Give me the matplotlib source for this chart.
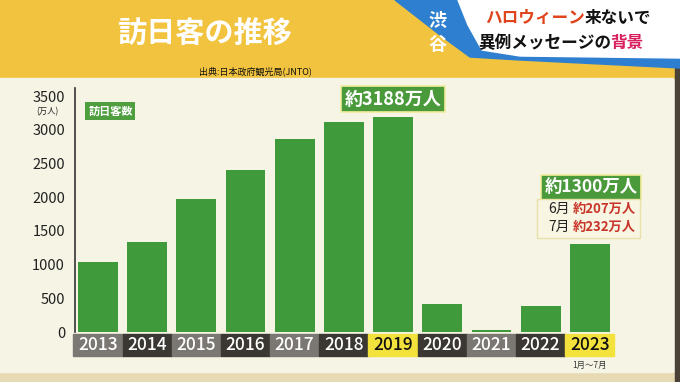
import matplotlib.pyplot as plt
from matplotlib.patches import Rectangle, Polygon
import matplotlib.transforms as mtransforms

plt.rcParams['font.family'] = ['Noto Sans CJK JP', 'DejaVu Sans']

years = ["2013", "2014", "2015", "2016", "2017", "2018", "2019",
         "2020", "2021", "2022", "2023"]
visitors = [1036, 1341, 1974, 2404, 2869, 3119, 3188, 412, 25, 383, 1300]
box_colors = ["#7b7874", "#3b3834", "#7b7874", "#3b3834", "#7b7874", "#3b3834",
              "#f4e23c", "#3b3834", "#7b7874", "#3b3834", "#f4e23c"]
yticks = [0, 500, 1000, 1500, 2000, 2500, 3000, 3500]

W, H = 680, 382


def fx(x):
    return x / W


def fy(y):
    return 1 - y / H


fig = plt.figure(figsize=(6.8, 3.82), dpi=100)
fig.patch.set_facecolor("#f5f2e3")

# top yellow band, cream panel, bottom strip, dark right edge
fig.patches.append(Rectangle((0, fy(78)), 1, 78 / H, transform=fig.transFigure,
                             color="#f1c33e", zorder=0))
fig.patches.append(Rectangle((0, 0), 1, 10 / H, transform=fig.transFigure,
                             color="#e6dab4", zorder=0))
fig.patches.append(Rectangle((0, fy(372)), 673 / W, 294 / H, transform=fig.transFigure,
                             color="#f6f4e5", zorder=0))
fig.patches.append(Rectangle((fx(675), 0), 5 / W, fy(62), transform=fig.transFigure,
                             color="#4a4236", zorder=0))

# blue swoosh + white caption box at top right
blue = Polygon([(fx(395), fy(0)), (fx(680), fy(0)), (fx(680), fy(68)), (fx(520), fy(60)),
                (fx(470), fy(57)), (fx(440), fy(35))], closed=True,
               transform=fig.transFigure, color="#2f7fd0", zorder=1)
white = Polygon([(fx(458), fy(0)), (fx(680), fy(0)), (fx(680), fy(58)), (fx(520), fy(56)),
                 (fx(482), fy(50)), (fx(468), fy(25))], closed=True,
                transform=fig.transFigure, color="white", zorder=1)
fig.patches.extend([blue, white])
fig.text(fx(437), fy(20), "渋", color="white", fontsize=13, fontweight="bold",
         ha="center", va="center", zorder=3)
fig.text(fx(437), fy(44), "谷", color="white", fontsize=13, fontweight="bold",
         ha="center", va="center", zorder=3)
fig.text(fx(485), fy(18), "ハロウィーン", color="#e0441c", fontsize=12, fontweight="bold",
         ha="left", va="center", zorder=3)
fig.text(fx(585), fy(18), "来ないで", color="#111111", fontsize=12, fontweight="bold",
         ha="left", va="center", zorder=3)
fig.text(fx(478), fy(43), "異例メッセージの", color="#111111", fontsize=12, fontweight="bold",
         ha="left", va="center", zorder=3)
fig.text(fx(610), fy(43), "背景", color="#d8205e", fontsize=12, fontweight="bold",
         ha="left", va="center", zorder=3)

# title and source
fig.text(fx(205), fy(33), "訪日客の推移", color="white", fontsize=21, fontweight="bold",
         ha="center", va="center", style="italic")
fig.text(fx(255), fy(71), "出典:日本政府観光局(JNTO)", color="#111111", fontsize=6.5,
         ha="center", va="center")

# main axes
ax = fig.add_axes([73.4 / W, 1 - 332 / H, 541 / W, 236 / H])
ax.set_zorder(2)
ax.set_facecolor("none")
x = list(range(len(years)))
ax.bar(x, visitors, width=0.81, color="#3f9a3b", zorder=2)
ax.set_xlim(-0.5, len(years) - 0.5)
ax.set_ylim(0, 3500)
for s in ax.spines.values():
    s.set_visible(False)
ax.plot([-0.47, -0.47], [0, 3620], color="#333333", lw=1.2, clip_on=False)
ax.set_yticks(yticks)
ax.set_yticklabels([str(v) for v in yticks], fontsize=10.5, color="#222222")
ax.tick_params(axis="y", length=0, pad=6)
ax.set_xticks([])
ax.text(-0.8, 3270, "(万人)", fontsize=6, ha="right", va="center", color="#222222")

# year label boxes
trans = mtransforms.blended_transform_factory(ax.transData, ax.transAxes)
for i, (yr, c) in enumerate(zip(years, box_colors)):
    ax.add_patch(Rectangle((i - 0.5, -0.1), 1.0, 0.092, transform=trans, color=c,
                           clip_on=False, zorder=3))
    tc = "#111111" if c == "#f4e23c" else "white"
    ax.text(i, -0.054, yr, transform=trans, color=tc, fontsize=12.5, ha="center",
            va="center", fontweight="medium", zorder=4)
ax.text(10, -0.14, "1月〜7月", transform=trans, fontsize=6, ha="center", va="center",
        color="#333333")

# legend label
ax.text(-0.2, 3280, "訪日客数", fontsize=8, color="white", ha="left", va="center",
        fontweight="bold",
        bbox=dict(boxstyle="square,pad=0.25", fc="#4f9f40", ec="none"))

# annotations
ax.text(6, 3450, "約3188万人", fontsize=13, color="white", ha="center", va="center",
        fontweight="bold", clip_on=False,
        bbox=dict(boxstyle="square,pad=0.2", fc="#4a9a3c", ec="#f1ec9a", lw=1.2))
ax.text(10.03, 2150, "約1300万人", fontsize=12.5, color="white", ha="center", va="center",
        fontweight="bold", clip_on=False,
        bbox=dict(boxstyle="square,pad=0.2", fc="#4a9a3c", ec="#f1ec9a", lw=1.2))
fig.patches.append(Rectangle((fx(537), fy(238)), 103 / W, 39 / H, transform=fig.transFigure,
                             fc="#f8f5e2", ec="#e9e1a8", lw=1, zorder=5))
fig.text(fx(548), fy(209), "6月", fontsize=10, color="#222222", ha="left", va="center",
         zorder=6)
fig.text(fx(548), fy(227), "7月", fontsize=10, color="#222222", ha="left", va="center",
         zorder=6)
fig.text(fx(573), fy(209), "約207万人", fontsize=9.5, color="#c8352a", ha="left",
         va="center", fontweight="bold", zorder=6)
fig.text(fx(573), fy(227), "約232万人", fontsize=9.5, color="#c8352a", ha="left",
         va="center", fontweight="bold", zorder=6)

fig.savefig("out.png", dpi=100)
